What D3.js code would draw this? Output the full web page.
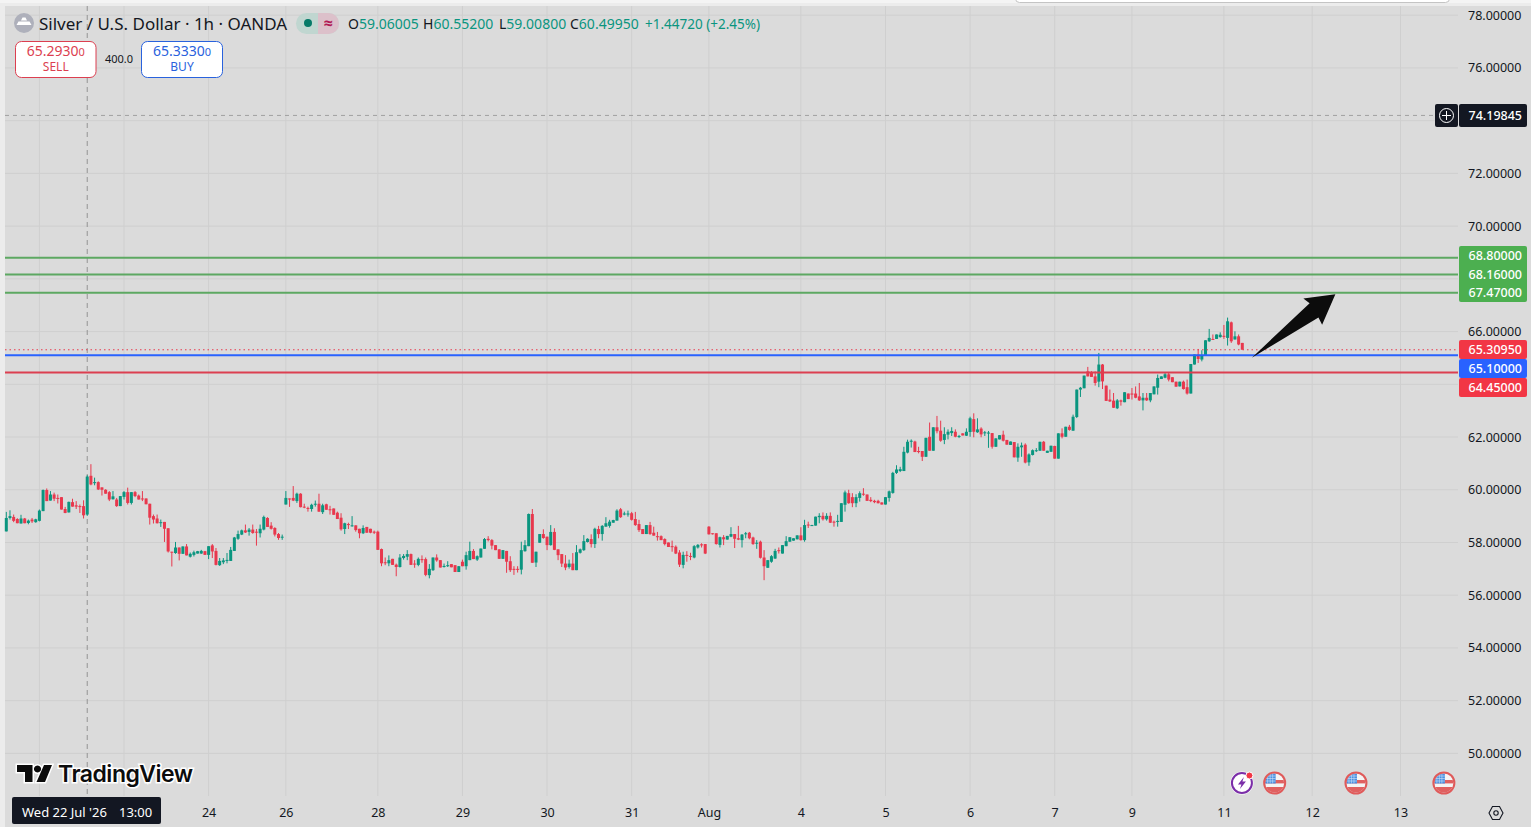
<!DOCTYPE html>
<html>
<head>
<meta charset="utf-8">
<script src="https://cdn.jsdelivr.net/npm/d3@7"></script>
<style>
  html, body { margin: 0; padding: 0; background: #ececec; overflow: hidden; }
  svg { display: block; font-family: "Noto Sans", "Open Sans", sans-serif; }
</style>
</head>
<body>
<svg></svg>
<script>
// Silver / USD hourly candles
const opens = [
  58.42,58.93,58.97,58.89,58.72,58.91,58.74,58.87,58.77,58.82,
  59.19,59.99,59.59,59.82,59.69,59.72,59.27,59.14,59.53,59.41,
  59.38,59.38,59.06,60.53,60.25,60.29,60.09,60.0,59.91,59.64,
  59.63,59.38,59.73,59.91,59.5,59.91,59.78,59.67,59.67,59.47,
  59.0,58.91,58.74,58.78,58.54,57.65,57.6,57.81,57.57,57.85,
  57.46,57.53,57.58,57.58,57.67,57.53,57.89,57.68,57.14,57.25,
  57.3,57.3,57.68,58.14,58.3,58.46,58.4,58.49,58.41,58.35,
  58.49,58.93,58.64,58.55,58.32,58.19,59.44,59.67,59.69,59.57,
  59.85,59.36,59.31,59.27,59.44,59.47,59.15,59.45,59.26,59.29,
  59.13,58.94,58.51,58.7,58.63,58.65,58.52,58.35,58.59,58.52,
  58.41,58.41,57.75,57.25,57.21,57.38,57.16,57.07,57.41,57.46,
  57.56,57.2,57.15,57.37,57.37,56.76,56.95,57.43,57.33,57.07,
  57.1,57.18,57.14,56.88,57.27,57.1,57.33,57.68,57.35,57.43,
  57.76,58.14,58.09,57.9,57.74,57.38,57.68,57.29,57.0,57.0,
  56.97,57.67,57.86,59.08,57.24,57.99,58.32,58.22,57.9,58.4,
  57.74,57.56,57.2,57.07,57.2,56.95,57.61,57.71,58.02,58.13,
  57.94,58.51,
  58.32,58.6,58.63,58.75,58.83,59.26,59.06,59.06,59.11,58.89,
  58.7,58.51,58.32,58.66,58.37,58.24,58.24,58.13,58.0,57.86,
  57.84,57.62,57.15,57.53,57.49,57.43,57.81,57.93,57.94,
  58.6,58.35,58.35,57.91,58.2,58.11,58.22,58.32,58.16,58.09,
  58.31,58.37,58.19,57.96,58.03,57.43,57.04,57.27,57.39,57.71,
  57.58,57.86,58.03,58.07,58.12,58.27,58.09,58.68,58.64,58.64,
  58.96,59.01,58.88,59.01,58.79,58.78,58.78,59.43,59.87,59.72,
  59.49,59.69,59.85,59.82,59.62,59.58,59.58,59.52,59.44,59.69,
  59.88,60.64,60.71,60.71,61.41,61.82,61.83,61.47,61.47,61.25,
  62.01,61.48,62.37,62.24,61.89,62.09,62.15,62.2,62.0,62.14,
  62.05,62.19,62.68,62.18,62.32,62.14,62.14,62.15,61.63,61.91,
  62.09,61.89,61.7,61.81,61.22,61.61,61.71,61.04,61.32,61.48,
  61.48,61.82,61.4,61.44,61.66,61.18,62.14,62.01,62.39,62.24,
  62.76,63.8,63.85,64.49,64.46,64.3,64.1,64.75,63.95,63.42,
  63.38,63.09,63.39,63.32,63.65,63.65,63.65,63.54,63.39,63.49,
  63.39,63.62,63.87,64.2,64.25,64.38,64.27,64.1,63.92,64.1,
  63.89,63.65,64.75,65.13,64.94,65.11,65.63,65.72,65.72,65.79,
  65.84,65.76,66.35,65.7,65.82,65.57
];
const highs = [
  59.16,59.22,59.06,58.92,59.05,58.93,58.87,58.93,58.9,59.25,
  60.01,60.05,59.95,59.89,59.82,59.72,59.35,59.55,59.66,59.57,
  59.44,59.6,60.552,60.97,60.46,60.32,60.09,60.02,59.95,59.95,
  59.69,59.76,59.95,60.08,59.91,59.95,59.82,59.95,59.67,59.47,
  59.06,59.06,58.87,58.78,58.54,57.65,58.02,57.81,57.85,57.94,
  57.62,57.69,57.68,57.72,57.68,57.86,57.94,57.79,57.41,57.41,
  57.6,57.83,58.21,58.45,58.49,58.68,58.55,58.68,58.51,58.68,
  59.02,58.96,58.77,58.58,58.36,58.3,59.95,59.67,60.14,59.89,
  59.87,59.47,59.36,59.47,59.59,59.85,59.47,59.47,59.39,59.29,
  59.17,59.11,58.75,58.75,59.0,58.65,58.52,58.65,58.59,58.52,
  58.45,58.45,57.77,57.43,57.51,57.38,57.2,57.56,57.56,57.71,
  57.58,57.33,57.43,57.51,57.43,57.18,57.43,57.55,57.33,57.2,
  57.29,57.18,57.14,57.1,57.35,57.65,58.03,57.75,57.51,57.77,
  58.17,58.24,58.13,57.9,57.74,57.71,57.68,57.48,57.1,57.1,
  58.03,58.09,59.1,59.27,57.65,58.32,58.5,58.22,58.66,58.54,
  57.74,57.56,57.52,57.35,57.6,57.9,57.77,58.28,58.16,58.31,
  58.56,58.63,
  58.66,58.96,58.86,58.86,59.26,59.31,59.17,59.21,59.16,59.16,
  58.86,58.51,58.66,58.78,58.6,58.4,58.27,58.16,58.0,58.07,
  57.89,57.71,57.65,57.67,57.61,57.9,57.94,57.97,57.94,
  58.62,58.35,58.35,58.22,58.28,58.25,58.58,58.32,58.63,58.32,
  58.4,58.4,58.22,58.09,58.07,57.71,57.33,57.52,57.76,57.81,
  57.9,58.24,58.2,58.16,58.27,58.58,58.86,58.79,58.67,58.98,
  59.11,59.14,59.11,59.14,58.83,59.05,59.49,59.97,60.0,59.87,
  59.83,59.94,60.06,59.82,59.72,59.62,59.62,59.52,59.72,59.97,
  60.68,60.93,60.87,61.63,61.9,61.91,61.86,61.63,61.47,61.97,
  62.55,62.37,62.8,62.62,62.37,62.29,62.37,62.29,62.08,62.14,
  62.33,62.77,62.9,62.71,62.37,62.23,62.23,62.15,61.95,62.07,
  62.24,61.89,61.83,61.81,61.76,61.79,61.76,61.38,61.53,61.58,
  61.82,61.85,61.48,61.67,61.67,62.14,62.33,62.39,62.46,62.85,
  63.8,63.9,64.33,64.66,64.5,64.49,65.19,64.77,63.95,63.8,
  63.67,63.44,63.42,63.7,63.65,63.86,63.92,64.05,63.67,63.67,
  63.67,63.92,64.37,64.3,64.46,64.46,64.27,64.1,64.1,64.14,
  64.18,64.77,65.13,65.34,65.29,65.67,66.1,65.89,65.89,65.97,
  66.25,66.53,66.38,66.01,65.89,65.57
];
const lows = [
  58.42,58.87,58.77,58.73,58.72,58.73,58.69,58.74,58.75,58.8,
  59.19,59.57,59.59,59.57,59.48,59.25,59.11,59.14,59.36,59.27,
  59.12,58.91,59.008,60.17,60.17,59.99,59.78,59.85,59.57,59.63,
  59.35,59.38,59.63,59.44,59.44,59.72,59.63,59.57,59.45,58.68,
  58.72,58.72,58.59,58.02,57.62,57.09,57.57,57.32,57.57,57.51,
  57.43,57.47,57.58,57.57,57.53,57.37,57.41,57.13,57.11,57.18,
  57.21,57.3,57.68,58.1,58.28,58.36,58.26,58.33,57.88,58.19,
  58.46,58.59,58.49,58.23,58.1,58.1,59.44,59.35,59.57,59.5,
  59.33,59.3,59.17,59.17,59.36,59.16,59.08,59.24,59.06,59.05,
  58.89,58.45,58.32,58.51,58.6,58.41,58.16,58.32,58.37,58.35,
  58.32,57.72,57.1,57.14,57.1,57.15,56.72,57.05,57.35,57.33,
  57.15,57.04,57.1,57.23,56.72,56.64,56.92,57.27,57.05,57.05,
  57.07,57.06,56.88,56.88,57.1,56.97,57.33,57.37,57.3,57.43,
  57.76,58.04,57.74,57.71,57.38,57.38,56.85,56.88,56.77,56.86,
  56.79,57.65,57.86,57.23,57.07,57.99,58.14,57.71,57.88,57.71,
  57.33,57.07,56.95,57.01,56.95,56.95,57.58,57.68,58.0,57.81,
  57.79,58.16,
  58.07,58.6,58.56,58.75,58.83,58.93,59.03,58.98,58.83,58.63,
  58.4,58.32,58.32,58.29,58.26,58.07,58.09,57.89,57.83,57.65,
  57.56,57.07,57.02,57.27,57.33,57.4,57.77,57.81,57.56,
  58.3,58.3,57.92,57.81,57.9,58.11,58.2,57.79,58.09,57.81,
  58.16,58.12,57.91,57.76,57.39,56.57,57.04,57.23,57.38,57.58,
  57.58,57.86,58.03,58.07,58.12,58.07,58.03,58.55,58.63,58.64,
  58.73,58.83,58.83,58.74,58.6,58.6,58.78,59.17,59.47,59.34,
  59.34,59.55,59.77,59.58,59.53,59.49,59.48,59.44,59.44,59.55,
  59.85,60.6,60.67,60.71,61.38,61.6,61.43,61.38,61.09,61.25,
  61.48,61.48,62.14,61.82,61.73,61.91,62.04,61.99,61.96,62.06,
  62.04,62.01,61.99,62.16,61.99,62.04,61.59,61.56,61.63,61.91,
  61.83,61.71,61.7,61.23,61.06,61.25,61.0,60.91,61.3,61.43,
  61.48,61.48,61.4,61.44,61.18,61.18,61.95,62.01,62.24,62.24,
  62.72,63.52,63.85,64.3,64.28,63.95,63.89,63.82,63.37,63.33,
  63.1,63.06,63.19,63.32,63.44,63.42,63.47,63.37,63.01,63.37,
  63.32,63.62,63.61,64.2,64.23,64.11,64.08,63.91,63.92,63.8,
  63.61,63.65,64.75,64.81,64.87,65.11,65.61,65.7,65.72,65.77,
  65.72,65.47,65.57,65.7,65.48,65.34
];
const closes = [
  58.93,59.0,58.82,58.73,58.91,58.73,58.83,58.8,58.88,59.21,
  59.99,59.57,59.82,59.66,59.67,59.25,59.12,59.54,59.36,59.36,
  59.35,59.03,60.4995,60.2,60.29,60.01,60.0,59.85,59.63,59.75,
  59.38,59.76,59.91,59.5,59.91,59.76,59.63,59.64,59.45,58.94,
  58.87,58.73,58.77,58.52,57.66,57.62,57.81,57.57,57.85,57.51,
  57.57,57.63,57.67,57.68,57.53,57.86,57.66,57.15,57.3,57.32,
  57.34,57.72,58.19,58.32,58.46,58.38,58.49,58.36,58.38,58.52,
  58.97,58.59,58.52,58.3,58.17,58.22,59.69,59.63,59.59,59.85,
  59.34,59.33,59.29,59.43,59.47,59.17,59.41,59.24,59.24,59.05,
  58.89,58.5,58.73,58.66,58.65,58.47,58.35,58.55,58.37,58.37,
  58.37,57.72,57.21,57.23,57.33,57.15,57.07,57.43,57.49,57.56,
  57.15,57.18,57.38,57.33,56.77,57.0,57.43,57.32,57.05,57.11,
  57.14,57.06,56.88,57.1,57.1,57.52,57.68,57.37,57.48,57.77,
  58.13,58.09,57.88,57.71,57.38,57.71,57.27,56.95,56.97,56.97,
  57.71,57.9,59.08,57.23,57.65,58.32,58.17,57.9,58.4,57.72,
  57.52,57.2,57.05,57.2,56.95,57.63,57.74,58.05,58.14,57.94,
  58.52,58.32,
  58.63,58.73,58.79,58.85,59.21,58.96,59.1,59.1,58.86,58.66,
  58.47,58.32,58.66,58.32,58.26,58.2,58.09,57.94,57.83,57.84,
  57.58,57.16,57.53,57.49,57.47,57.86,57.91,57.89,57.58,
  58.31,58.32,57.94,58.2,58.12,58.25,58.32,58.14,58.11,58.3,
  58.35,58.16,57.94,57.99,57.42,57.1,57.33,57.48,57.68,57.67,
  57.9,58.05,58.2,58.16,58.27,58.09,58.66,58.65,58.66,58.98,
  59.01,58.88,59.01,58.75,58.77,58.82,59.49,59.9,59.49,59.49,
  59.72,59.87,59.82,59.58,59.57,59.53,59.49,59.44,59.72,59.94,
  60.64,60.77,60.78,61.44,61.82,61.86,61.43,61.43,61.25,61.97,
  61.48,62.37,62.22,61.86,62.11,62.2,62.23,62.01,62.04,62.06,
  62.2,62.71,62.2,62.29,62.1,62.18,62.17,61.63,61.95,62.07,
  61.86,61.71,61.83,61.23,61.63,61.68,61.03,61.34,61.5,61.5,
  61.82,61.48,61.48,61.67,61.18,62.14,62.01,62.39,62.27,62.77,
  63.8,63.87,64.33,64.3,64.28,64.05,64.75,64.11,63.37,63.35,
  63.11,63.39,63.34,63.7,63.44,63.61,63.49,63.39,63.49,63.39,
  63.67,63.92,64.24,64.3,64.38,64.18,64.08,63.91,64.1,63.82,
  63.65,64.77,65.13,64.96,65.11,65.67,65.76,65.71,65.89,65.88,
  65.8,66.39,65.63,65.82,65.51,65.31
];

// time axis: grid lines per bar index, and the ticks that show a label
const gridBars = [9, 32, 55, 76, 101, 124, 147, 170, 191, 216, 239, 262, 285, 306, 331, 355, 379];
const tickBars = [55, 76, 101, 124, 147, 170, 191, 216, 239, 262, 285, 306, 331, 355, 379];
const tickLabels = ["24", "26", "28", "29", "30", "31", "Aug", "4", "5", "6", "7", "9", "11", "12", "13"];
const gridPrices = [50, 52, 54, 56, 58, 60, 62, 64, 66, 68, 70, 72, 74, 76, 78];
// 64, 68 and 74 sit behind the level labels in the picture
const priceTicks = [50, 52, 54, 56, 58, 60, 62, 66, 70, 72, 76, 78];

// horizontal levels drawn on the chart
const levelPrices = [68.8, 68.16, 67.47, 65.1, 64.45];
const levelKinds = ["target", "target", "target", "buy", "sell"];
const lastPrice = 65.3095;
const crosshairBar = 22;
const crosshairPrice = 74.19845;

// arrow drawing as [bar, price]
const arrowBars = [338.6, 354.3, 352.6, 361.3, 357.7, 356.7];
const arrowPrices = [65.01, 67.07, 67.25, 67.42, 66.26, 66.53];

// calendar events under the candles
const flagBars = [344.8, 366.9, 390.8];
const alertBar = 335.9;

const width = 1531, height = 827;
const green = "#0a957f", red = "#e8384d", dark = "#131722";
const paneRight = 1458, paneLeft = 5;

const svg = d3.select("svg").attr("width", width).attr("height", height);

const x = d3.scaleLinear().domain([0, closes.length - 1]).range([6.3, 1242.3]);
const y = d3.scaleLinear().domain([50, 78]).range([753.4, 15.2]);

// background
svg.append("rect").attr("width", width).attr("height", height).attr("fill", "#ececec");
svg.append("rect").attr("x", paneLeft).attr("y", 6).attr("width", width - paneLeft).attr("height", height - 6).attr("fill", "#dbdbdb");
svg.append("rect").attr("x", 0).attr("y", 0).attr("width", width).attr("height", 3).attr("fill", "#f4f4f4");
svg.append("rect").attr("x", 1015.5).attr("y", -8).attr("width", 434).attr("height", 10.5).attr("rx", 4).attr("fill", "#fff").attr("stroke", "#c4c4c4");

// grid
svg.append("g").selectAll("line").data(gridPrices).enter().append("line")
    .attr("x1", paneLeft).attr("x2", paneRight)
    .attr("y1", d => y(d)).attr("y2", d => y(d))
    .attr("stroke", "#cfcfcf");
svg.append("g").selectAll("line").data(gridBars).enter().append("line")
    .attr("x1", d => x(d)).attr("x2", d => x(d))
    .attr("y1", 6).attr("y2", 796)
    .attr("stroke", "#cfcfcf");

// price axis
const yAxis = svg.append("g").attr("transform", `translate(${paneRight},0)`)
    .call(d3.axisRight(y).tickValues(priceTicks).tickSize(0).tickPadding(10).tickFormat(d3.format(".5f")));
yAxis.select(".domain").remove();
yAxis.selectAll("text").attr("font-size", 12.5).attr("fill", dark).attr("font-family", '"Noto Sans"');

// time axis
const xAxis = svg.append("g").attr("transform", "translate(0,796)")
    .call(d3.axisBottom(x).tickValues(tickBars).tickSize(0).tickPadding(12).tickFormat((d, i) => tickLabels[i]));
xAxis.select(".domain").remove();
xAxis.selectAll("text").attr("font-size", 12.5).attr("fill", dark).attr("font-family", '"Noto Sans"');

// crosshair
svg.append("line").attr("x1", x(crosshairBar)).attr("x2", x(crosshairBar)).attr("y1", 6).attr("y2", 796)
    .attr("stroke", "#949494").attr("stroke-dasharray", "5 4");
svg.append("line").attr("x1", paneLeft).attr("x2", 1435).attr("y1", y(crosshairPrice)).attr("y2", y(crosshairPrice))
    .attr("stroke", "#a0a0a0").attr("stroke-dasharray", "4 4");

// candles
const bars = d3.range(closes.length);
const candles = svg.append("g");
candles.selectAll(".wick").data(bars).enter().append("line")
    .attr("class", "wick")
    .attr("x1", d => x(d)).attr("x2", d => x(d))
    .attr("y1", d => y(highs[d])).attr("y2", d => y(lows[d]))
    .attr("stroke", d => closes[d] >= opens[d] ? green : red)
    .attr("stroke-width", 1);
candles.selectAll(".body").data(bars).enter().append("rect")
    .attr("class", "body")
    .attr("x", d => x(d) - 1.5).attr("width", 3)
    .attr("y", d => y(Math.max(opens[d], closes[d])))
    .attr("height", d => Math.max(1, Math.abs(y(opens[d]) - y(closes[d]))))
    .attr("fill", d => closes[d] >= opens[d] ? green : red);

// levels
const levelColor = { target: "#5da862", buy: "#2962ff", sell: "#dc3f50" };
svg.append("g").selectAll("line").data(levelPrices).enter().append("line")
    .attr("x1", paneLeft).attr("x2", paneRight)
    .attr("y1", d => y(d)).attr("y2", d => y(d))
    .attr("stroke", (d, i) => levelColor[levelKinds[i]])
    .attr("stroke-width", 2);
svg.append("line").attr("x1", paneLeft).attr("x2", paneRight).attr("y1", y(lastPrice)).attr("y2", y(lastPrice))
    .attr("stroke", red).attr("stroke-dasharray", "1.5 3");

// arrow
svg.append("polygon")
    .attr("points", arrowBars.map((b, i) => [x(b), y(arrowPrices[i])].join(",")).join(" "))
    .attr("fill", "#0c0c0c");

// right side price labels
function priceLabel(top, h, fill, txt, color) {
    svg.append("rect").attr("x", 1459).attr("y", top).attr("width", 68).attr("height", h).attr("rx", 2).attr("fill", fill);
    if (txt) svg.append("text").attr("x", 1522).attr("y", top + h / 2 + 4.5).attr("text-anchor", "end")
        .attr("font-size", 12.5).attr("font-weight", 500).attr("fill", color || "#fff").text(txt);
}
priceLabel(246, 56, "#4caf50");
[[68.8, 255.7], [68.16, 274.3], [67.47, 292.5]].forEach(([p, cy]) => {
    svg.append("text").attr("x", 1522).attr("y", cy + 4.5).attr("text-anchor", "end")
        .attr("font-size", 12.5).attr("font-weight", 500).attr("fill", "#fff").text(p.toFixed(5));
});
priceLabel(340, 19, "#f23645", lastPrice.toFixed(5));
priceLabel(359, 19, "#2962ff", "65.10000");
priceLabel(378, 19, "#f23645", "64.45000");

// crosshair labels
priceLabel(104, 23, dark, crosshairPrice.toFixed(5));
svg.append("rect").attr("x", 1435).attr("y", 104).attr("width", 23).attr("height", 23).attr("rx", 2).attr("fill", dark);
svg.append("circle").attr("cx", 1446.5).attr("cy", 115.5).attr("r", 7).attr("fill", "none").attr("stroke", "#fff");
svg.append("path").attr("d", "M1446.5 111v9M1442 115.5h9").attr("stroke", "#fff");
svg.append("rect").attr("x", 12).attr("y", 797).attr("width", 149).attr("height", 27).attr("rx", 2).attr("fill", dark);
svg.append("text").attr("x", 22).attr("y", 817).attr("font-size", 13).attr("fill", "#fff").text("Wed 22 Jul '26");
svg.append("text").attr("x", 119).attr("y", 817).attr("font-size", 13).attr("fill", "#fff").text("13:00");

// header
svg.append("circle").attr("cx", 24).attr("cy", 23).attr("r", 10).attr("fill", "#aeb0bb");
svg.append("path").attr("d", "M16.5 25l2-3.5h11l2 3.5zM21 20.5l1.5-3h3l1.5 3z").attr("fill", "#fff");
svg.append("text").attr("x", 39).attr("y", 29.5).attr("font-size", 17).attr("fill", dark).text("Silver / U.S. Dollar · 1h · OANDA");

svg.append("rect").attr("x", 296).attr("y", 13).attr("width", 43).attr("height", 21).attr("rx", 10.5).attr("fill", "#c0d6d0");
svg.append("path").attr("d", "M318 13h10.5a10.5 10.5 0 0 1 0 21H318z").attr("fill", "#dcc0ca");
svg.append("circle").attr("cx", 308).attr("cy", 23).attr("r", 4).attr("fill", "#067a68");
svg.append("text").attr("x", 328).attr("y", 28.5).attr("text-anchor", "middle").attr("font-size", 16).attr("font-weight", 700).attr("fill", "#b01a55").text("≈");

const ohlcParts = [["O", "59.06005"], ["H", "60.55200"], ["L", "59.00800"], ["C", "60.49950"]];
const ohlcX = [348, 423, 499, 570];
ohlcParts.forEach(([k, v], i) => {
    const t = svg.append("text").attr("x", ohlcX[i]).attr("y", 28.5).attr("font-size", 14);
    t.append("tspan").attr("fill", dark).text(k);
    t.append("tspan").attr("fill", green).text(v);
});
svg.append("text").attr("x", 645).attr("y", 28.5).attr("font-size", 13.5).attr("fill", green).text("+1.44720 (+2.45%)");

// sell / buy boxes
function tradeBox(left, w, color, price, last, word) {
    svg.append("rect").attr("x", left).attr("y", 41.5).attr("width", w).attr("height", 36).attr("rx", 6)
        .attr("fill", "#fff").attr("stroke", color);
    const t = svg.append("text").attr("x", left + w / 2).attr("y", 56).attr("text-anchor", "middle").attr("fill", color).attr("font-size", 14);
    t.append("tspan").text(price);
    t.append("tspan").attr("font-size", 11).text(last);
    svg.append("text").attr("x", left + w / 2).attr("y", 71).attr("text-anchor", "middle").attr("fill", color).attr("font-size", 12).text(word);
}
tradeBox(15.5, 80.5, "#dc3f50", "65.2930", "0", "SELL");
tradeBox(141.5, 81, "#2962dd", "65.3330", "0", "BUY");
svg.append("text").attr("x", 119).attr("y", 63).attr("text-anchor", "middle").attr("font-size", 11).attr("fill", dark).text("400.0");

// TradingView logo
const logo = svg.append("g");
logo.append("path").attr("d", "M17 765h15.5v17H25v-10h-8zM44 765h8l-7 17h-8.5zM37.5 765.4a3.6 3.6 0 1 0 .01 0z")
    .attr("fill", "#0c0c0c").attr("stroke", "#fff").attr("stroke-width", 3).attr("paint-order", "stroke");
logo.append("text").attr("x", 58).attr("y", 782).attr("font-size", 23).attr("font-weight", 600)
    .attr("font-family", '"Inter", "Noto Sans"').attr("letter-spacing", -0.5)
    .attr("fill", "#0c0c0c").attr("stroke", "#fff").attr("stroke-width", 3).attr("paint-order", "stroke").text("TradingView");

// events
const defs = svg.append("defs");
defs.append("clipPath").attr("id", "flagClip").append("circle").attr("r", 9.5);
function flag(cx) {
    const g = svg.append("g").attr("transform", `translate(${cx},783)`);
    const inner = g.append("g").attr("clip-path", "url(#flagClip)");
    inner.append("rect").attr("x", -10).attr("y", -10).attr("width", 20).attr("height", 20).attr("fill", "#f4f4f4");
    inner.append("rect").attr("x", -10).attr("y", -3).attr("width", 20).attr("height", 3.4).attr("fill", "#e06060");
    inner.append("rect").attr("x", -10).attr("y", 4).attr("width", 20).attr("height", 6).attr("fill", "#e06060");
    inner.append("rect").attr("x", -10).attr("y", -10).attr("width", 11).attr("height", 10.5).attr("fill", "#4a90e2");
    inner.append("path").attr("d", "M-7 -10v10.5M-4.5 -10v10.5M-2 -10v10.5M-10 -7h11M-10 -4.5h11M-10 -2h11")
        .attr("stroke", "#cfe2f7").attr("stroke-width", 0.6);
    g.append("circle").attr("r", 10.5).attr("fill", "none").attr("stroke", "#e05a5a").attr("stroke-width", 2);
}
flagBars.forEach(b => flag(x(b)));
const alert = svg.append("g").attr("transform", `translate(${x(alertBar)},783)`);
alert.append("circle").attr("r", 11.5).attr("fill", "#fff");
alert.append("circle").attr("r", 10).attr("fill", "none").attr("stroke", "#7b2ea8").attr("stroke-width", 2);
alert.append("path").attr("d", "M2 -6L-4 1.5h3.5L-2 6l6 -7.5H.5z").attr("fill", "#7b2ea8");
alert.append("circle").attr("cx", 7.5).attr("cy", -7.5).attr("r", 3.5).attr("fill", "#f23645").attr("stroke", "#fff");

// settings gear
svg.append("path").attr("d", "M1489 813l3.5-6.5h7l3.5 6.5-3.5 6.5h-7z").attr("fill", "none").attr("stroke", dark).attr("stroke-width", 1.1);
svg.append("circle").attr("cx", 1496).attr("cy", 813).attr("r", 2.2).attr("fill", "none").attr("stroke", dark).attr("stroke-width", 1.1);
</script>
</body>
</html>
